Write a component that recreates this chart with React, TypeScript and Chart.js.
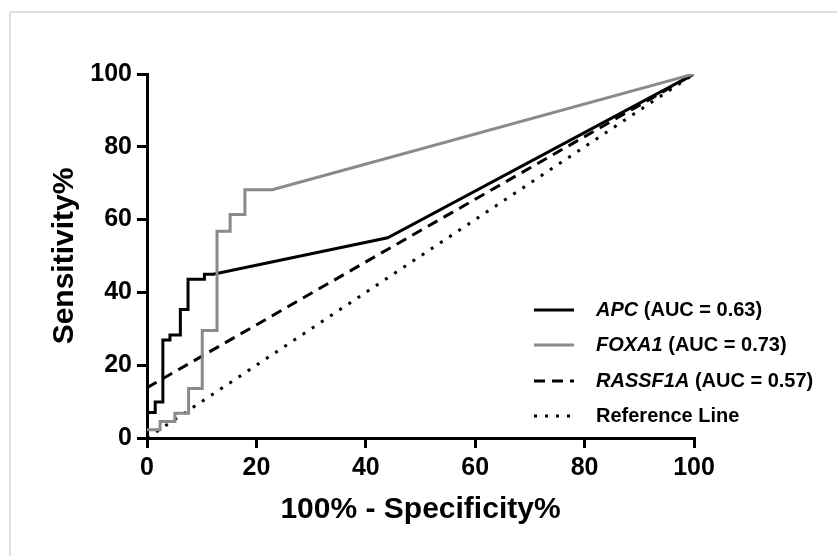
import React, { useEffect, useRef } from "react";
import { Chart, registerables } from "chart.js";

Chart.register(...registerables);

// ROC curves: 100% - Specificity% (x) vs Sensitivity% (y)
const apcX = [0, 1.5, 1.5, 2.9, 2.9, 4.2, 4.2, 6.1, 6.1, 7.5, 7.5, 10.5, 10.5, 12.1, 44, 100];
const apcY = [7, 7, 9.9, 9.9, 26.9, 26.9, 28.3, 28.3, 35.3, 35.3, 43.6, 43.6, 45.0, 45.0, 55, 100];

const foxa1X = [0, 2.4, 2.4, 5.1, 5.1, 7.6, 7.6, 10.1, 10.1, 12.8, 12.8, 15.2, 15.2, 17.9, 17.9, 22.9, 100];
const foxa1Y = [2.3, 2.3, 4.5, 4.5, 6.8, 6.8, 13.6, 13.6, 29.5, 29.5, 56.8, 56.8, 61.4, 61.4, 68.2, 68.2, 100];

const rassf1aX = [0, 44.2, 100];
const rassf1aY = [13.8, 52, 100];

const refX = [0, 100];
const refY = [0, 100];

const axisTicks = [0, 20, 40, 60, 80, 100];

const legendGenes = ["APC", "FOXA1", "RASSF1A", ""];
const legendRest = [" (AUC = 0.63)", " (AUC = 0.73)", " (AUC = 0.57)", "Reference Line"];

const xTitle = "100% - Specificity%";
const yTitle = "Sensitivity%";

const GRAY = "#8a8a8a";
const FONT = "'Liberation Sans', Arial, Helvetica, sans-serif";

const toPts = (xs: number[], ys: number[]) => xs.map((x, i) => ({ x, y: ys[i] }));

const legendStyles = [
  { color: "#000", dash: [] as number[] },
  { color: GRAY, dash: [] as number[] },
  { color: "#000", dash: [11, 7] },
  { color: "#000", dash: [3, 8] },
];

const legendPlugin = {
  id: "rocLegend",
  afterDraw(chart: any) {
    const ctx = chart.ctx as CanvasRenderingContext2D;
    ctx.save();
    const x0 = 534;
    const x1 = 574;
    const tx = 596;
    const rows = [310, 345, 381, 416];
    rows.forEach((y, i) => {
      const st = legendStyles[i];
      ctx.beginPath();
      ctx.setLineDash(st.dash);
      ctx.lineWidth = 3;
      ctx.lineCap = "butt";
      ctx.strokeStyle = st.color;
      ctx.moveTo(x0, y);
      ctx.lineTo(x1, y);
      ctx.stroke();
      ctx.setLineDash([]);
      ctx.fillStyle = "#000";
      ctx.textBaseline = "middle";
      ctx.textAlign = "left";
      let cx = tx;
      if (legendGenes[i]) {
        ctx.font = `italic bold 20px ${FONT}`;
        ctx.fillText(legendGenes[i], cx, y);
        cx += ctx.measureText(legendGenes[i]).width;
      }
      ctx.font = `bold 20px ${FONT}`;
      ctx.fillText(legendRest[i], cx, y);
    });
    ctx.restore();
  },
};

export default function App() {
  const ref = useRef<HTMLCanvasElement | null>(null);
  useEffect(() => {
    if (!ref.current) return;
    const lineDs = (label: string, data: any[], color: string, dash: number[], order: number) => ({
      label,
      data,
      showLine: true,
      borderColor: color,
      backgroundColor: color,
      borderWidth: 3,
      borderDash: dash,
      borderCapStyle: "butt",
      borderJoinStyle: "miter",
      pointRadius: 0,
      pointHoverRadius: 0,
      fill: false,
      tension: 0,
      order,
    });
    const tickFont = { family: FONT, size: 25, weight: "bold" as const };
    const chart = new Chart(ref.current, {
      type: "scatter",
      data: {
        datasets: [
          lineDs("APC", toPts(apcX, apcY), "#000", [], 1),
          lineDs("FOXA1", toPts(foxa1X, foxa1Y), GRAY, [], 0),
          lineDs("RASSF1A", toPts(rassf1aX, rassf1aY), "#000", [11, 7], 2),
          lineDs("Reference Line", toPts(refX, refY), "#000", [3, 8], 3),
        ] as any,
      },
      options: {
        responsive: false,
        animation: false,
        devicePixelRatio: 1,
        layout: { padding: { top: 74, right: 143, left: 0, bottom: 0 } },
        plugins: { legend: { display: false }, tooltip: { enabled: false } },
        scales: {
          x: {
            type: "linear",
            min: 0,
            max: 100,
            afterFit: (s: any) => {
              s.height = 118;
            },
            afterBuildTicks: (s: any) => {
              s.ticks = axisTicks.map((v) => ({ value: v }));
            },
            border: { display: true, color: "#000", width: 3 },
            grid: { drawOnChartArea: false, drawTicks: true, tickLength: 10, color: "#000", lineWidth: 3 },
            ticks: { color: "#000", font: tickFont, padding: 5, maxRotation: 0 },
            title: {
              display: true,
              text: xTitle,
              color: "#000",
              font: { family: FONT, size: 30, weight: "bold" },
              padding: { top: 0, bottom: 28 },
            },
          },
          y: {
            type: "linear",
            min: 0,
            max: 100,
            afterFit: (s: any) => {
              s.width = 147;
            },
            afterBuildTicks: (s: any) => {
              s.ticks = axisTicks.map((v) => ({ value: v }));
            },
            border: { display: true, color: "#000", width: 3 },
            grid: { drawOnChartArea: false, drawTicks: true, tickLength: 10, color: "#000", lineWidth: 3 },
            ticks: { color: "#000", font: tickFont, padding: 5 },
            title: {
              display: true,
              text: yTitle,
              color: "#000",
              font: { family: FONT, size: 30, weight: "bold" },
              padding: { top: 47, bottom: 0 },
            },
          },
        },
      } as any,
      plugins: [legendPlugin],
    });
    return () => chart.destroy();
  }, []);

  return (
    <div style={{ position: "absolute", left: 0, top: 0, width: 837, height: 556, background: "#fff" }}>
      <div
        style={{
          position: "absolute",
          left: 9,
          top: 11,
          width: 828,
          height: 545,
          borderTop: "2px solid #e0e0e0",
          borderLeft: "2px solid #e0e0e0",
          boxSizing: "border-box",
        }}
      />
      <canvas ref={ref} width={837} height={556} style={{ position: "absolute", left: 0, top: 0 }} />
    </div>
  );
}
